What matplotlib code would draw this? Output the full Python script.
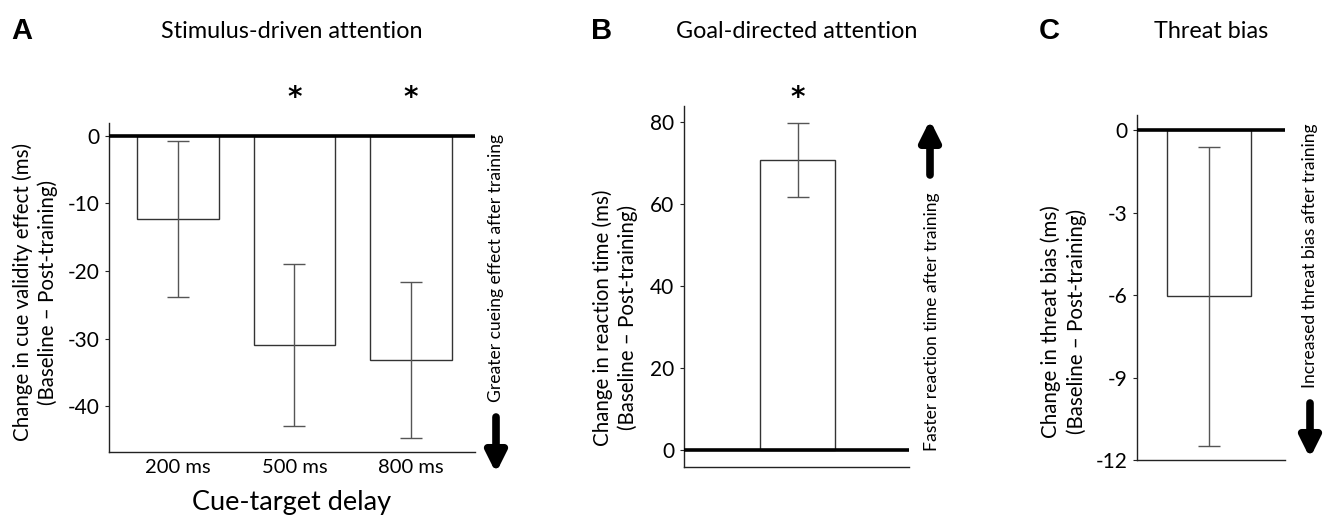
import matplotlib
matplotlib.use("Agg")
import matplotlib.pyplot as plt
import numpy as np

plt.rcParams['font.family'] = ['Lato', 'DejaVu Sans']
plt.rcParams['axes.unicode_minus'] = False

# panel A - stimulus-driven attention
delays = ["200 ms", "500 ms", "800 ms"]
cue_change = [-12.3, -31.0, -33.2]
cue_err = [11.6, 12.0, 11.5]
cue_sig = [False, True, True]

# panel B - goal-directed attention
rt_change = [70.8]
rt_err = [9.1]

# panel C - threat bias
threat_change = [-6.05]
threat_err = [5.45]

W, H = 1325, 518
fig = plt.figure(figsize=(W / 100, H / 100), dpi=100)


def box(l, r, t, b):
    return [l / W, (H - b) / H, (r - l) / W, (b - t) / H]


edge = '#333333'
errc = '#555555'


def style(ax):
    for s in ['top', 'right']:
        ax.spines[s].set_visible(False)
    for s in ['left', 'bottom']:
        ax.spines[s].set_color('#222222')
        ax.spines[s].set_linewidth(1.0)
    ax.tick_params(axis='y', direction='out', length=3, width=0.8,
                   labelsize=15, pad=4, color='#222222')
    ax.tick_params(axis='x', length=0, labelsize=14.5, pad=5)
    ax.axhline(0, color='black', lw=2.6, zorder=5)


def star(ax, x, y):
    ax.text(x, y, '*', ha='center', va='center', fontsize=20,
            fontweight='bold', family='DejaVu Sans', clip_on=False)


# ---- A
axA = fig.add_axes(box(109, 475, 123, 452))
xA = np.arange(len(delays))
axA.bar(xA, cue_change, width=0.7, color='white', edgecolor=edge, lw=1.0)
axA.errorbar(xA, cue_change, yerr=cue_err, fmt='none', ecolor=errc,
             elinewidth=1.0, capsize=8, capthick=1.0)
for x, s in zip(xA, cue_sig):
    if s:
        star(axA, x, 5.6)
axA.set_xlim(-0.59, 2.55)
axA.set_ylim(-46.8, 1.9)
axA.set_yticks([0, -10, -20, -30, -40])
axA.set_xticks(xA)
axA.set_xticklabels(delays)
style(axA)
axA.set_ylabel("Change in cue validity effect (ms)\n(Baseline \u2013 Post-training)",
               fontsize=14.8, linespacing=1.3)
axA.yaxis.set_label_coords(-0.139, 0.486)
axA.set_xlabel("Cue-target delay", fontsize=19.5, labelpad=10)

# ---- B
axB = fig.add_axes(box(684, 909, 106, 467))
axB.bar([0], rt_change, width=0.7, color='white', edgecolor=edge, lw=1.0)
axB.errorbar([0], rt_change, yerr=rt_err, fmt='none', ecolor=errc,
             elinewidth=1.0, capsize=8, capthick=1.0)
star(axB, 0, 86.0)
axB.set_xlim(-1.06, 1.04)
axB.set_ylim(-4.1, 84)
axB.set_yticks([0, 20, 40, 60, 80])
axB.set_xticks([])
style(axB)
axB.set_ylabel("Change in reaction time (ms)\n(Baseline \u2013 Post-training)",
               fontsize=14.8, linespacing=1.3)
axB.yaxis.set_label_coords(-0.204, 0.413)

# ---- C
axC = fig.add_axes(box(1137, 1285, 115, 460))
axC.bar([0], threat_change, width=0.7, color='white', edgecolor=edge, lw=1.0)
axC.errorbar([0], threat_change, yerr=threat_err, fmt='none', ecolor=errc,
             elinewidth=1.0, capsize=8, capthick=1.0)
axC.set_xlim(-0.6, 0.63)
axC.set_ylim(-12, 0.55)
axC.set_yticks([0, -3, -6, -9, -12])
axC.set_xticks([])
style(axC)
axC.set_ylabel("Change in threat bias (ms)\n(Baseline \u2013 Post-training)",
               fontsize=14.8, linespacing=1.3)
axC.yaxis.set_label_coords(-0.338, 0.40)

# titles and panel letters
for lx, ax, letter, title in [(22, axA, 'A', 'Stimulus-driven attention'),
                              (602, axB, 'B', 'Goal-directed attention'),
                              (1049, axC, 'C', 'Threat bias')]:
    p = ax.get_position()
    fig.text(lx / W, 1 - 31 / H, letter, ha='center', va='center',
             fontsize=21, fontweight='bold', family='Liberation Sans')
    fig.text(p.x0 + p.width / 2, 1 - 31 / H, title, ha='center', va='center',
             fontsize=16.8)

# side notes with arrows
notes = [(496, 268, "Greater cueing effect after training", (496, 101), (496, 45)),
         (932, 322, "Faster reaction time after training", (930, 343), (930, 398)),
         (1310, 256, "Increased threat bias after training", (1310, 115), (1310, 60))]
for x, y, txt, tail, tip in notes:
    fig.text(x / W, 1 - y / H, txt, rotation=90, ha='center', va='center',
             fontsize=12.6)
    axA.annotate('', xy=tip, xytext=tail, xycoords='figure pixels',
                 textcoords='figure pixels',
                 arrowprops=dict(arrowstyle='-|>', lw=5.5, color='black',
                                 mutation_scale=30, shrinkA=0, shrinkB=0))

fig.savefig("out.png", dpi=100, facecolor='white')
